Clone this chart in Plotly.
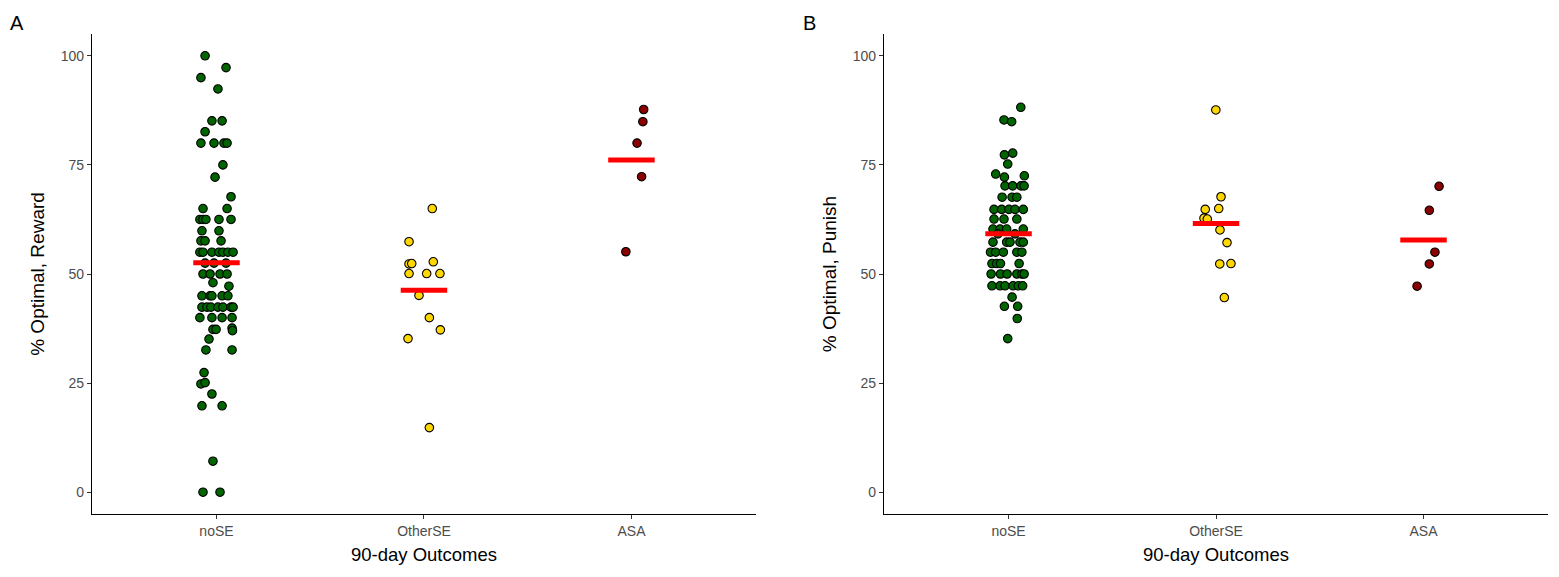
import plotly.graph_objects as go
from plotly.subplots import make_subplots

groups = ["noSE", "OtherSE", "ASA"]
fill_colors = ["#006400", "#FFD700", "#8B0000"]

# panel A, % optimal reward (y value, horizontal jitter in category units)
reward_nose = [100, 97.3, 95.0, 92.4, 85.1, 85.1, 82.6, 80.0, 80.0, 80.0, 80.0,
               75.0, 72.2, 67.7, 65.0, 65.0, 62.5, 62.5, 62.5, 62.5, 62.5,
               59.9, 59.9, 57.6, 57.6, 57.6, 55.0, 55.0, 55.0, 55.0, 55.0, 55.0, 55.0,
               52.5, 52.5, 52.5, 50.0, 50.0, 50.0, 50.0, 48.0, 47.2,
               45.0, 45.0, 45.0, 45.0, 45.0, 42.4, 42.4, 42.4, 42.4, 42.4, 42.4, 42.4,
               40.0, 40.0, 40.0, 40.0, 37.3, 37.3, 37.6, 37.0, 35.1, 32.6, 32.6,
               27.4, 24.8, 25.1, 22.5, 19.8, 19.8, 7.1, 0, 0]
reward_nose_jit = [-0.055, 0.046, -0.075, 0.007, -0.022, 0.027, -0.055, -0.075, -0.012, 0.036, 0.051,
                   0.031, -0.007, 0.070, -0.065, 0.051, -0.080, -0.065, -0.051, 0.012, 0.070,
                   -0.070, 0.012, -0.075, -0.055, 0.022, -0.080, -0.065, -0.022, 0.012, 0.031, 0.055, 0.080,
                   -0.055, -0.012, 0.046, -0.065, -0.031, 0.017, 0.051, -0.017, 0.060,
                   -0.070, -0.031, -0.022, 0.027, 0.055, -0.070, -0.046, -0.027, 0.007, 0.031, 0.070, 0.080,
                   -0.080, -0.022, 0.027, 0.075, -0.017, -0.002, 0.075, 0.077, -0.036, -0.051, 0.075,
                   -0.060, -0.075, -0.055, -0.022, -0.070, 0.027, -0.017, -0.065, 0.017]
reward_other = [65.0, 57.4, 52.3, 52.4, 52.8, 50.1, 50.1, 50.1, 45.1, 40.0, 37.2, 35.2, 14.8]
reward_other_jit = [0.040, -0.072, -0.072, -0.059, 0.045, -0.072, 0.013, 0.077, -0.024, 0.026, 0.079, -0.077, 0.026]
reward_asa = [87.7, 84.9, 80.0, 72.3, 55.1]
reward_asa_jit = [0.059, 0.055, 0.027, 0.049, -0.027]
reward_means = [52.6, 46.3, 76.1]

# panel B, % optimal punish
punish_nose = [88.2, 85.3, 84.9, 77.3, 77.7, 75.2, 72.9, 72.2, 72.5,
               70.2, 70.2, 70.2, 70.2, 67.6, 67.6, 67.6, 64.8, 64.8, 64.8, 64.8, 64.8,
               62.6, 62.6, 62.6, 60.3, 60.3, 60.3, 60.3, 59.2, 59.2,
               57.3, 57.3, 57.3, 57.3, 57.3, 55.0, 55.0, 55.0, 55.0, 55.0,
               52.4, 52.4, 52.4, 52.4, 50.0, 50.0, 50.0, 50.0, 50.0, 50.0,
               47.3, 47.3, 47.3, 47.3, 47.3, 47.3, 44.7, 42.6, 42.6, 39.8, 35.2]
punish_nose_jit = [0.059, -0.022, 0.015, -0.020, 0.020, -0.004, -0.062, -0.020, 0.076,
                   -0.017, 0.020, 0.060, 0.075, -0.031, 0.017, 0.040, -0.070, -0.033, 0.002, 0.031, 0.071,
                   -0.070, -0.022, 0.040, -0.075, -0.041, -0.009, 0.071, -0.051, 0.031,
                   -0.075, -0.009, 0.007, 0.055, 0.071, -0.087, -0.062, -0.025, 0.040, 0.064,
                   -0.080, -0.057, -0.039, 0.051, -0.084, -0.039, -0.007, 0.040, 0.064, 0.075,
                   -0.080, -0.041, -0.017, 0.022, 0.047, 0.068, 0.017, -0.020, 0.044, 0.042, -0.004]
punish_other = [87.6, 67.7, 64.8, 65.0, 62.8, 62.6, 60.1, 57.2, 52.3, 52.4, 44.6]
punish_other_jit = [-0.001, 0.024, -0.052, 0.013, -0.058, -0.042, 0.019, 0.053, 0.018, 0.072, 0.040]
punish_asa = [70.1, 64.6, 55.0, 52.3, 47.2]
punish_asa_jit = [0.075, 0.028, 0.055, 0.028, -0.031]
punish_means = [59.2, 61.6, 57.8]

panels = [
    ([(reward_nose, reward_nose_jit), (reward_other, reward_other_jit), (reward_asa, reward_asa_jit)],
     reward_means, "% Optimal, Reward"),
    ([(punish_nose, punish_nose_jit), (punish_other, punish_other_jit), (punish_asa, punish_asa_jit)],
     punish_means, "% Optimal, Punish"),
]

fig = make_subplots(rows=1, cols=2, horizontal_spacing=0.088)

for col, (series, means, ytitle) in enumerate(panels, start=1):
    for i, (vals, jit) in enumerate(series):
        fig.add_trace(go.Scatter(
            x=[i + j for j in jit], y=vals, mode="markers", showlegend=False,
            marker=dict(size=8.5, color=fill_colors[i], line=dict(color="black", width=1.1)),
        ), row=1, col=col)
    for i, m in enumerate(means):
        fig.add_trace(go.Scatter(
            x=[i - 0.112, i + 0.112], y=[m, m], mode="lines", showlegend=False,
            line=dict(color="#FF0000", width=5),
        ), row=1, col=col)
    fig.update_xaxes(range=[-0.6, 2.6], tickvals=[0, 1, 2], ticktext=groups,
                     title=dict(text="90-day Outcomes", font=dict(size=18.5, color="black"), standoff=10),
                     row=1, col=col)
    fig.update_yaxes(range=[-5, 105], tickvals=[0, 25, 50, 75, 100],
                     title=dict(text=ytitle, font=dict(size=19, color="black"), standoff=11),
                     row=1, col=col)

fig.update_xaxes(showline=True, linecolor="black", linewidth=1.3, ticks="outside", ticklen=4,
                 tickcolor="#333333", showgrid=False, zeroline=False, automargin=False,
                 tickfont=dict(size=14, color="#4D4D4D"))
fig.update_yaxes(showline=True, linecolor="black", linewidth=1.3, ticks="outside", ticklen=4,
                 tickcolor="#333333", showgrid=False, zeroline=False, automargin=False,
                 tickfont=dict(size=14, color="#4D4D4D"))

for label, xp in [("A", -0.057), ("B", 0.4876)]:
    fig.add_annotation(text=label, xref="paper", yref="paper", x=xp, y=1.023,
                       xanchor="left", yanchor="middle", showarrow=False, borderpad=0,
                       font=dict(size=20, color="black"))

# the page body adds 8px around the figure, so the figure is 8px smaller
fig.update_layout(
    width=1551, height=569,
    margin=dict(l=84, r=11, t=26, b=63),
    paper_bgcolor="white", plot_bgcolor="white",
    font=dict(family="Liberation Sans, Arial, sans-serif"),
)

fig.write_html("out.html")
